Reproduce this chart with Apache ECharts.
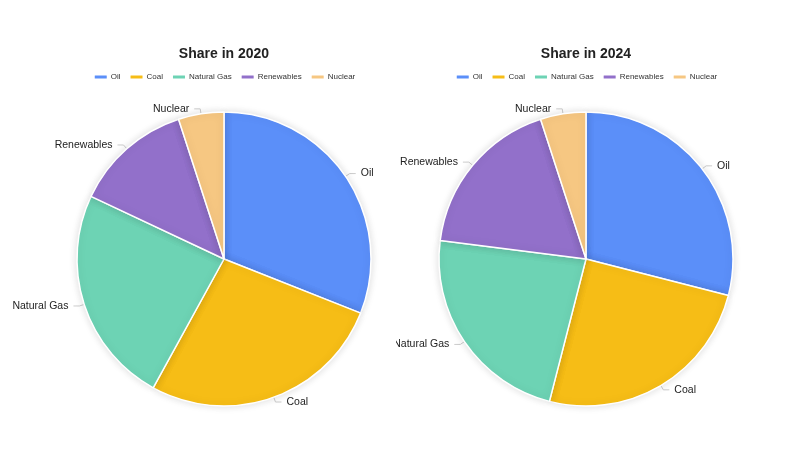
<!DOCTYPE html>
<html>
<head>
<meta charset="utf-8">
<script src="https://cdn.jsdelivr.net/npm/echarts@6/dist/echarts.min.js"></script>
<style>
  html, body { margin: 0; padding: 0; background: #fff; }
  #wrap { position: relative; width: 800px; height: 476px; overflow: hidden; }
  #chart2020 { position: absolute; left: 0; top: 0; width: 448px; height: 476px; }
  #chart2024 { position: absolute; left: 396px; top: 0; width: 380px; height: 476px; overflow: hidden; }
</style>
</head>
<body>
<div id="wrap">
  <div id="chart2020"></div>
  <div id="chart2024"></div>
</div>
<script>
// 数据
const sources = ['Oil', 'Coal', 'Natural Gas', 'Renewables', 'Nuclear'];
const share2020 = [31, 27, 24, 13, 5];
const share2024 = [29, 25, 23, 18, 5];
const colors = ['#5B8FF9', '#F6BD16', '#6DD3B4', '#9270CA', '#F6C782'];

function buildOption(title, values) {
  return {
    color: colors,
    title: {
      text: title,
      left: 'center',
      top: 47,
      padding: 0,
      textStyle: { fontSize: 14, fontWeight: 'bold', color: '#222', fontFamily: 'Liberation Sans, Arial, sans-serif' }
    },
    legend: {
      top: 73,
      left: 'center',
      padding: 0,
      itemWidth: 14,
      itemHeight: 5,
      itemGap: 8,
      textStyle: { fontSize: 8, color: '#333', padding: [0, 0, 0, -2], fontFamily: 'Liberation Sans, Arial, sans-serif' },
      data: sources
    },
    series: [{
      type: 'pie',
      center: ['50%', 259],
      radius: 147,
      startAngle: 90,
      clockwise: true,
      avoidLabelOverlap: true,
      itemStyle: {
        borderColor: '#fff',
        borderWidth: 1.5,
        shadowBlur: 8,
        shadowColor: 'rgba(0,0,0,0.14)'
      },
      label: {
        show: true,
        overflow: 'none',
        fontSize: 10.5,
        color: '#222',
        fontFamily: 'Liberation Sans, Arial, sans-serif'
      },
      labelLine: {
        length: 5,
        length2: 6,
        lineStyle: { color: '#ccc', width: 1 }
      },
      data: sources.map((name, i) => ({ name: name, value: values[i] }))
    }]
  };
}

const chartA = echarts.init(document.getElementById('chart2020'));
chartA.setOption(buildOption('Share in 2020', share2020));
const chartB = echarts.init(document.getElementById('chart2024'));
chartB.setOption(buildOption('Share in 2024', share2024));
</script>
</body>
</html>
